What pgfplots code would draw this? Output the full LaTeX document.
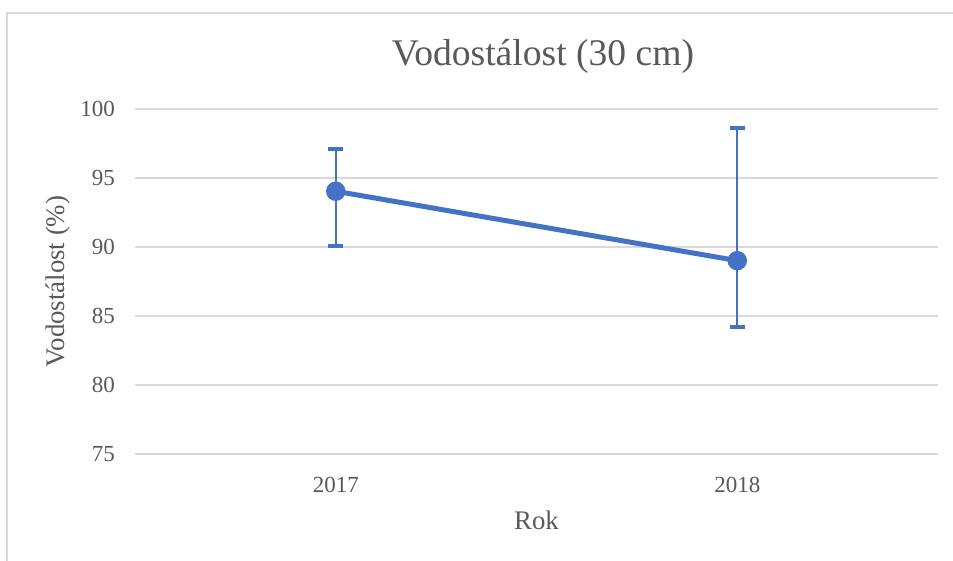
\documentclass[border=0pt]{standalone}
\usepackage{pgfplots}
\pgfplotsset{compat=1.18}
\usepackage{fontspec}
\setmainfont{Liberation Serif}
\definecolor{txt}{HTML}{595959}
\definecolor{gridc}{HTML}{D9D9D9}
\definecolor{ser}{HTML}{4472C4}
\begin{document}
\begin{tikzpicture}[x=0.5pt,y=0.5pt]
\path[use as bounding box] (0,0) rectangle (953,561);
\draw[gridc, line width=1pt] (7,0) -- (7,548) -- (953,548);
\node[txt, font=\fontsize{18.8}{22}\selectfont] at (543,505) {Vodostálost (30 cm)};
\begin{axis}[
  at={(135*0.5pt,107*0.5pt)}, anchor=south west,
  scale only axis, width=401.5pt, height=172.5pt,
  xmin=-0.5, xmax=1.5, ymin=75, ymax=100,
  xtick={0,1}, xticklabels={2017,2018},
  ytick={75,80,85,90,95,100},
  axis line style={draw=none},
  major tick length=0pt,
  ymajorgrids, xmajorgrids=false,
  y grid style={gridc, line width=0.75pt},
  /pgf/number format/assume math mode=true,
  ticklabel style={txt, font=\fontsize{11.5}{13}\selectfont},
  yticklabel style={xshift=-6.5pt},
  xticklabel style={yshift=-8pt},
  xlabel={Rok}, ylabel={Vodostálost (\%)},
  label style={txt, font=\fontsize{13.4}{16}\selectfont},
  xlabel style={yshift=-2.5pt},
  ylabel style={yshift=-1.8pt},
  clip=false,
]
\addplot[ser, line width=2.5pt, mark=*, mark size=3.6pt,
  error bars/.cd, y dir=both, y explicit,
  error bar style={line width=1pt, ser},
  error mark options={rotate=90, mark size=3.75pt, line width=2pt, ser}]
  coordinates {
    (0,94.04) += (0,3.06) -= (0,3.97)
    (1,89.01) += (0,9.59) -= (0,4.81)
  };
\end{axis}
\end{tikzpicture}
\end{document}
